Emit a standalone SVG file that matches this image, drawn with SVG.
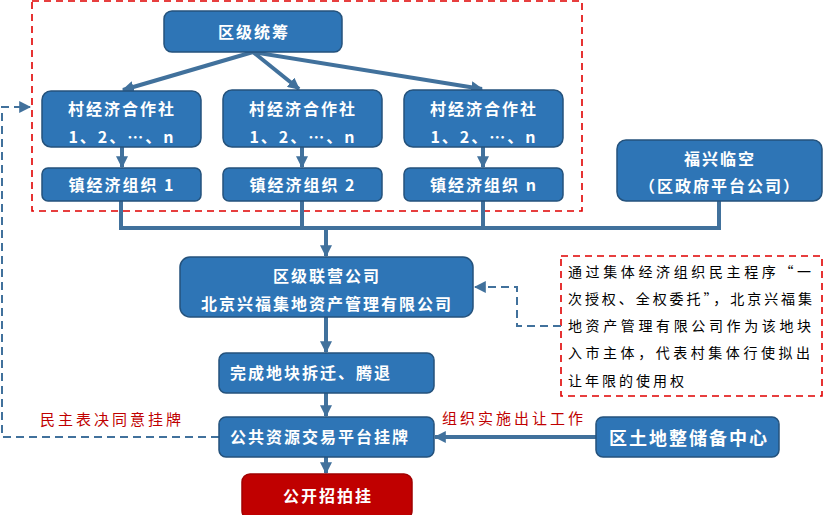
<svg xmlns="http://www.w3.org/2000/svg" width="824" height="515" viewBox="0 0 824 515">
<defs>
<style>
.box{fill:#2e75b6;stroke:#24527c;stroke-width:1.5}
.red{fill:#c00000;stroke:#a00000;stroke-width:1.5}
.t{fill:#fff;font-family:"Noto Sans CJK SC","Liberation Sans",sans-serif;font-weight:bold;font-size:16px;letter-spacing:2px;text-anchor:middle;dominant-baseline:central}
.line{fill:none;stroke:#41719c;stroke-width:4}
.dash{fill:none;stroke:#41719c;stroke-width:2;stroke-dasharray:8 5}
.reddash{fill:none;stroke:#e00000;stroke-width:1.6;stroke-dasharray:7 5}
.note{fill:#000;font-family:"Noto Sans CJK SC","Liberation Sans",sans-serif;font-size:14px;letter-spacing:3px;dominant-baseline:central}
.lab{fill:#c00000;font-family:"Noto Sans CJK SC","Liberation Sans",sans-serif;font-size:15px;letter-spacing:3px;dominant-baseline:central}
</style>
<marker id="ah" viewBox="0 0 10 10" refX="9" refY="5" markerWidth="3" markerHeight="3" orient="auto" markerUnits="strokeWidth"><path d="M0,0 L10,5 L0,10 z" fill="#41719c"/></marker>
<marker id="ahd" viewBox="0 0 10 10" refX="9" refY="5" markerWidth="6" markerHeight="6" orient="auto" markerUnits="strokeWidth"><path d="M0,0 L10,5 L0,10 z" fill="#41719c"/></marker>
</defs>

<rect class="reddash" x="32" y="1" width="550" height="210"/>
<rect class="reddash" x="561" y="256" width="261" height="140"/>

<g id="connectors">
<line class="line" x1="253" y1="52" x2="123" y2="90" marker-end="url(#ah)"/>
<line class="line" x1="253" y1="52" x2="299" y2="89" marker-end="url(#ah)"/>
<line class="line" x1="253" y1="52" x2="482" y2="89" marker-end="url(#ah)"/>
<line class="line" x1="122" y1="147" x2="122" y2="167" marker-end="url(#ah)"/>
<line class="line" x1="302" y1="147" x2="302" y2="167" marker-end="url(#ah)"/>
<line class="line" x1="483" y1="147" x2="483" y2="167" marker-end="url(#ah)"/>
<polyline class="line" points="121,201 121,228 719,228 719,201"/>
<line class="line" x1="302" y1="201" x2="302" y2="228"/>
<line class="line" x1="483" y1="201" x2="483" y2="228"/>
<line class="line" x1="326" y1="228" x2="326" y2="256" marker-end="url(#ah)"/>
<line class="line" x1="326" y1="317" x2="326" y2="352" marker-end="url(#ah)"/>
<line class="line" x1="326" y1="393" x2="326" y2="416" marker-end="url(#ah)"/>
<line class="line" x1="326" y1="457" x2="326" y2="473" marker-end="url(#ah)"/>
<line class="line" x1="596" y1="437" x2="435" y2="437" marker-end="url(#ah)"/>
<polyline class="dash" points="561,326 517,326 517,287 475,287" marker-end="url(#ahd)"/>
<polyline class="dash" points="219,437 2,437 2,107 30,107" marker-end="url(#ahd)"/>
</g>

<g id="n-qjtc"><rect class="box" x="164" y="11" width="178" height="41" rx="8"/><text class="t" x="254" y="31">区级统筹</text></g>

<g id="n-c1"><rect class="box" x="42" y="91" width="159" height="56" rx="9"/><text class="t" x="122" y="108">村经济合作社</text><text class="t" x="122" y="136">1、2、…、n</text></g>
<g id="n-c2"><rect class="box" x="223" y="90" width="159" height="57" rx="9"/><text class="t" x="303" y="108">村经济合作社</text><text class="t" x="303" y="136">1、2、…、n</text></g>
<g id="n-c3"><rect class="box" x="404" y="90" width="159" height="57" rx="9"/><text class="t" x="484" y="108">村经济合作社</text><text class="t" x="484" y="136">1、2、…、n</text></g>

<g id="n-z1"><rect class="box" x="42" y="168" width="159" height="33" rx="6"/><text class="t" x="122" y="184">镇经济组织 1</text></g>
<g id="n-z2"><rect class="box" x="223" y="168" width="159" height="33" rx="6"/><text class="t" x="303" y="184">镇经济组织 2</text></g>
<g id="n-z3"><rect class="box" x="404" y="168" width="159" height="33" rx="6"/><text class="t" x="484" y="184">镇经济组织 n</text></g>

<g id="n-fx"><rect class="box" x="617" y="140" width="205" height="61" rx="9"/><text class="t" x="720" y="158">福兴临空</text><text class="t" x="720" y="185">（区政府平台公司）</text></g>

<g id="n-lygs"><rect class="box" x="180" y="257" width="293" height="60" rx="10"/><text class="t" x="327" y="275">区级联营公司</text><text class="t" x="327" y="303">北京兴福集地资产管理有限公司</text></g>

<g id="n-wc"><rect class="box" x="219" y="353" width="215" height="40" rx="7"/><text class="t" x="230" y="372" style="text-anchor:start">完成地块拆迁、腾退</text></g>

<g id="n-gg"><rect class="box" x="219" y="417" width="215" height="40" rx="7"/><text class="t" x="230" y="436" style="text-anchor:start">公共资源交易平台挂牌</text></g>

<g id="n-gk"><rect class="red" x="242" y="474" width="170" height="45" rx="8"/><text class="t" x="328" y="495">公开招拍挂</text></g>

<g id="n-td"><rect class="box" x="596" y="417" width="183" height="40" rx="7"/><text class="t" x="689" y="437" style="font-size:18px">区土地整储备中心</text></g>

<g id="note">
<text class="note" x="568" y="271" textLength="246" lengthAdjust="spacing">通过集体经济组织民主程序“一</text>
<text class="note" x="568" y="298" textLength="247" lengthAdjust="spacing">次授权、全权委托”，北京兴福集</text>
<text class="note" x="568" y="325" textLength="246" lengthAdjust="spacing">地资产管理有限公司作为该地块</text>
<text class="note" x="568" y="352" textLength="245" lengthAdjust="spacing">入市主体，代表村集体行使拟出</text>
<text class="note" x="568" y="380">让年限的使用权</text>
</g>

<text class="lab" x="40" y="418">民主表决同意挂牌</text>
<text class="lab" x="442" y="417">组织实施出让工作</text>
</svg>
